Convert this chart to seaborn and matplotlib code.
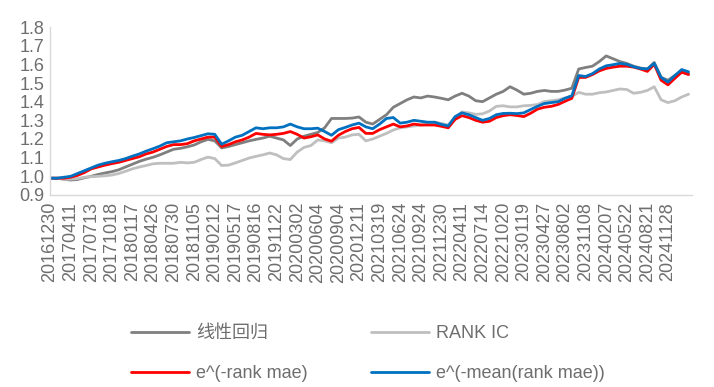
import numpy as np
import pandas as pd
import matplotlib
matplotlib.use("Agg")
import matplotlib.pyplot as plt
import seaborn as sns

# x轴标签（每3个采样点一个）
tick_labels = ['20161230', '20170411', '20170713', '20171018', '20180117', '20180426',
               '20180730', '20181105', '20190212', '20190517', '20190816', '20191122',
               '20200302', '20200604', '20200904', '20201211', '20210319', '20210624',
               '20210924', '20211230', '20220411', '20220714', '20221020', '20230119',
               '20230427', '20230802', '20231108', '20240207', '20240522', '20240821',
               '20241128']

# 线性回归
linear_reg = [0.99, 0.99, 0.985, 0.98, 0.983, 0.992, 1.0, 1.01, 1.018, 1.025,
              1.035, 1.05, 1.065, 1.08, 1.092, 1.102, 1.115, 1.13, 1.145, 1.15,
              1.158, 1.168, 1.185, 1.198, 1.19, 1.152, 1.16, 1.17, 1.18, 1.19,
              1.198, 1.205, 1.215, 1.205, 1.195, 1.165, 1.2, 1.215, 1.225, 1.235,
              1.26, 1.31, 1.31, 1.31, 1.312, 1.318, 1.29, 1.28, 1.305, 1.33,
              1.37, 1.39, 1.41, 1.425, 1.42, 1.43, 1.425, 1.418, 1.41, 1.43,
              1.445, 1.43, 1.405, 1.4, 1.42, 1.44, 1.455, 1.48, 1.462, 1.44,
              1.445, 1.455, 1.46, 1.455, 1.455, 1.462, 1.472, 1.575, 1.583, 1.59,
              1.615, 1.645, 1.63, 1.615, 1.605, 1.59, 1.58, 1.575, 1.61, 1.53,
              1.515, 1.54, 1.558, 1.55]

# RANK IC
rank_ic = [0.99, 0.99, 0.985, 0.985, 0.988, 0.995, 0.998, 1.0, 1.003, 1.007,
           1.015, 1.027, 1.04, 1.05, 1.058, 1.067, 1.07, 1.07, 1.07, 1.075,
           1.072, 1.075, 1.09, 1.103, 1.095, 1.058, 1.06, 1.072, 1.085, 1.098,
           1.107, 1.115, 1.125, 1.115, 1.095, 1.09, 1.13, 1.155, 1.165, 1.195,
           1.19, 1.18, 1.205, 1.21, 1.222, 1.225, 1.19, 1.2, 1.215, 1.23,
           1.248, 1.26, 1.265, 1.27, 1.275, 1.28, 1.29, 1.283, 1.275, 1.315,
           1.345, 1.34, 1.332, 1.335, 1.35, 1.375, 1.378, 1.372, 1.372, 1.378,
           1.38, 1.385, 1.4, 1.405, 1.41, 1.42, 1.428, 1.45, 1.44, 1.44,
           1.448, 1.452, 1.46, 1.468, 1.465, 1.445, 1.45, 1.46, 1.48, 1.41,
           1.395, 1.405, 1.425, 1.44]

# e^(-rank mae)
rank_mae = [0.99, 0.99, 0.99, 0.995, 1.005, 1.02, 1.04, 1.05, 1.06, 1.068,
            1.075, 1.085, 1.095, 1.105, 1.12, 1.13, 1.145, 1.16, 1.17, 1.17,
            1.175, 1.19, 1.2, 1.21, 1.21, 1.16, 1.17, 1.185, 1.195, 1.21,
            1.23, 1.225, 1.222, 1.225, 1.23, 1.24, 1.225, 1.205, 1.212, 1.222,
            1.2, 1.188, 1.22, 1.24, 1.255, 1.262, 1.23, 1.23, 1.25, 1.265,
            1.28, 1.265, 1.27, 1.28, 1.275, 1.275, 1.275, 1.268, 1.26, 1.305,
            1.325, 1.315, 1.3, 1.29, 1.295, 1.315, 1.325, 1.33, 1.326, 1.32,
            1.338, 1.36, 1.37, 1.375, 1.385, 1.402, 1.418, 1.53, 1.53, 1.545,
            1.565, 1.578, 1.585, 1.59, 1.59, 1.585, 1.575, 1.562, 1.6, 1.515,
            1.49, 1.525, 1.558, 1.545]

# e^(-mean(rank mae))
mean_rank_mae = [0.99, 0.99, 0.995, 1.0, 1.015, 1.03, 1.045, 1.06, 1.07, 1.078,
                 1.085, 1.095, 1.108, 1.12, 1.135, 1.148, 1.162, 1.18, 1.185, 1.19,
                 1.2, 1.208, 1.218, 1.228, 1.225, 1.172, 1.19, 1.21, 1.22, 1.24,
                 1.26, 1.255, 1.26, 1.26, 1.265, 1.28, 1.265, 1.255, 1.255, 1.258,
                 1.24, 1.22, 1.25, 1.262, 1.275, 1.285, 1.265, 1.255, 1.28, 1.31,
                 1.315, 1.285, 1.29, 1.3, 1.295, 1.29, 1.29, 1.278, 1.27, 1.32,
                 1.34, 1.33, 1.315, 1.3, 1.31, 1.33, 1.337, 1.338, 1.336, 1.34,
                 1.358, 1.375, 1.39, 1.395, 1.4, 1.418, 1.432, 1.54, 1.535, 1.55,
                 1.575, 1.592, 1.598, 1.605, 1.6, 1.587, 1.578, 1.575, 1.605, 1.53,
                 1.505, 1.54, 1.572, 1.56]

series_names = ['线性回归', 'RANK IC', 'e^(-rank mae)', 'e^(-mean(rank mae))']
series_colors = ['#7f7f7f', '#bfbfbf', '#ff0000', '#0070c0']

df = pd.concat([
    pd.DataFrame({'idx': np.arange(len(vals)), 'value': vals, 'series': name})
    for name, vals in zip(series_names, [linear_reg, rank_ic, rank_mae, mean_rank_mae])
])

sns.set_style('white')
plt.rcParams['font.family'] = ['Liberation Sans', 'Noto Sans CJK SC', 'DejaVu Sans']
text_color = '#6e6e6e'

fig = plt.figure(figsize=(7.14, 3.87), dpi=100)
ax = fig.add_axes([50 / 714, 1 - 195 / 387, 642 / 714, 168 / 387])

sns.lineplot(data=df, x='idx', y='value', hue='series', hue_order=series_names,
             palette=series_colors, linewidth=2, ax=ax, legend=True)

n_points = len(linear_reg)
ax.set_xlim(0, n_points - 0.5)
ax.set_ylim(0.9, 1.8)
ax.set_yticks(np.arange(0.9, 1.81, 0.1))
ax.set_yticklabels([f'{v:.1f}' for v in np.arange(0.9, 1.81, 0.1)])
ax.set_xticks(np.arange(len(tick_labels)) * 3)
ax.set_xticklabels(tick_labels, rotation=90)
ax.tick_params(axis='both', length=0, labelsize=13, colors=text_color)
ax.tick_params(axis='x', pad=5)
ax.tick_params(axis='y', pad=4)
ax.set_xlabel('')
ax.set_ylabel('')
for side in ['top', 'right']:
    ax.spines[side].set_visible(False)
for side in ['left', 'bottom']:
    ax.spines[side].set_color('#d9d9d9')
    ax.spines[side].set_linewidth(1)

# 图例：两行两列
handles, labels = ax.get_legend_handles_labels()
ax.get_legend().remove()
order = [0, 2, 1, 3]
leg = fig.legend([handles[i] for i in order], [labels[i] for i in order],
                 ncol=2, loc='upper left', bbox_to_anchor=(122 / 714, 1 - 316 / 387),
                 frameon=False, fontsize=13, handlelength=3.2, handletextpad=0.4,
                 columnspacing=3.5, labelspacing=1.3, borderpad=0)
for t in leg.get_texts():
    t.set_color(text_color)

plt.savefig('out.png', dpi=100)
plt.close()
